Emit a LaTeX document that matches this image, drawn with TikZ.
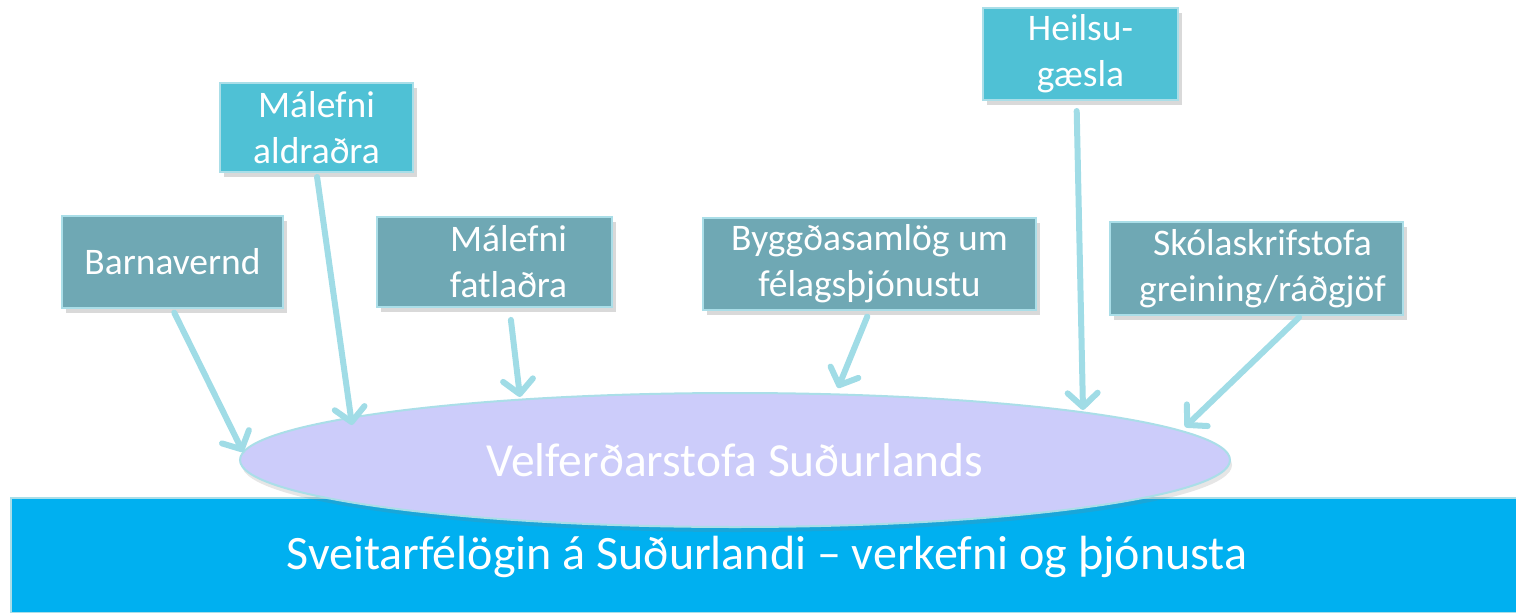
\documentclass[tikz,border=0pt]{standalone}
\usepackage{fontspec}
\setmainfont{Carlito}
\usetikzlibrary{arrows.meta,shapes.geometric,shadows}
\definecolor{tealbox}{RGB}{111,168,180}
\definecolor{cyanbox}{RGB}{79,193,213}
\definecolor{boxedge}{RGB}{170,222,232}
\definecolor{arrowc}{RGB}{160,220,230}
\definecolor{ellfill}{RGB}{204,204,250}
\definecolor{barfill}{RGB}{0,176,240}
\tikzset{
  boxbase/.style={draw=boxedge, line width=2pt, text=white, align=center,
    font=\fontsize{37.5}{46}\selectfont, inner sep=0pt,
    drop shadow={shadow xshift=4pt, shadow yshift=-5pt, opacity=0.3}},
  tealnode/.style={boxbase, fill=tealbox},
  cyannode/.style={boxbase, fill=cyanbox},
  conn/.style={draw=arrowc, line width=6pt, line cap=round,
    -{Straight Barb[length=14pt,width=30pt,line width=6pt,round]}}
}
\begin{document}
\begin{tikzpicture}[x=1pt,y=-1pt]
\useasboundingbox (0,0) rectangle (1516,613);
% bottom bar
\node[draw=boxedge, line width=2pt, fill=barfill, minimum width=1510pt, minimum height=115pt,
      anchor=north west, inner sep=0pt] (bar) at (10,497) {};
\node[text=white, font=\fontsize{48}{56}\selectfont] (bartext) at (767,557)
  {Sveitarfélögin á Suðurlandi – verkefni og þjónusta};
% ellipse
\node[ellipse, draw=boxedge, line width=2pt, fill=ellfill, minimum width=990pt, minimum height=134pt,
      inner sep=0pt, drop shadow={shadow xshift=2pt, shadow yshift=-5pt, opacity=0.2}] (ell) at (735,460) {};
\node[text=white, font=\fontsize{47.5}{56}\selectfont] (elltext) at (735,460) {Velferðarstofa Suðurlands};
% boxes
\node[tealnode, minimum width=221pt, minimum height=92pt] (b1) at (172.5,262) {Barnavernd};
\node[cyannode, minimum width=193pt, minimum height=89pt] (b2) at (316.5,127.5) {Málefni\\aldraðra};
\node[tealnode, minimum width=235pt, minimum height=90pt] (b3) at (494.5,262) {\hspace*{28pt}Málefni\\\hspace*{28pt}fatlaðra};
\node[tealnode, minimum width=333pt, minimum height=92pt] (b4) at (869.5,264) {Byggðasamlög um\\félagsþjónustu};
\node[tealnode, minimum width=293pt, minimum height=93pt] (b5) at (1256.5,268.5) {\hspace*{12pt}Skólaskrifstofa\\\hspace*{12pt}greining/ráðgjöf};
\node[cyannode, minimum width=195pt, minimum height=92pt] (b6) at (1080.5,54) {Heilsu-\\gæsla};
% end points on the ellipse
\coordinate (e1) at (243,452);
\coordinate (e2) at (352,425);
\coordinate (e3) at (520,397);
\coordinate (e4) at (838,388);
\coordinate (e5) at (1083,410);
\coordinate (e6) at (1185,427);
% connectors
\draw[conn, shorten <=4pt] (b1.south) -- (e1);
\draw[conn, shorten <=4pt] (b2.south) -- (e2);
\draw[conn, shorten <=12pt] ([xshift=15pt]b3.south) -- (e3);
\draw[conn, shorten <=6pt] (b4.south) -- (e4);
\draw[conn, shorten <=10pt] ([xshift=-4pt]b6.south) -- (e5);
\draw[conn, shorten <=2pt] ([xshift=44pt]b5.south) -- (e6);
\end{tikzpicture}
\end{document}
